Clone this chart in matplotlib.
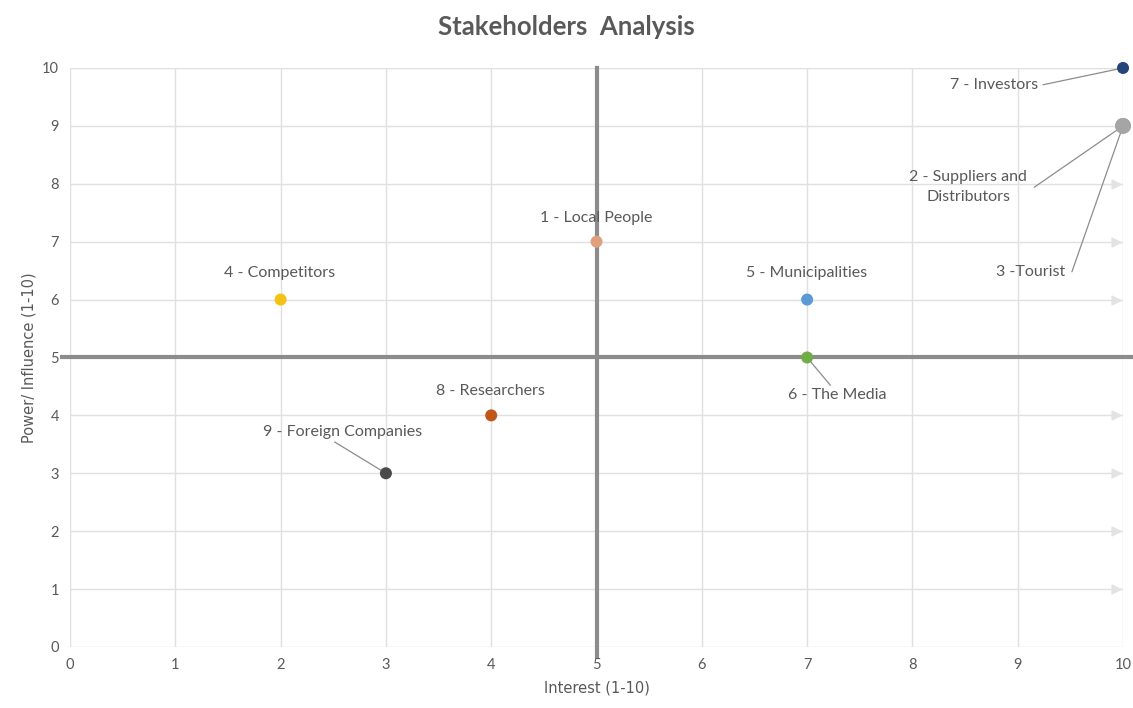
import matplotlib.pyplot as plt

# Stakeholder data (interest, power)
names = ['1 - Local People', '2 - Suppliers and\nDistributors', '3 -Tourist', '4 - Competitors',
         '5 - Municipalities', '6 - The Media', '7 - Investors', '8 - Researchers',
         '9 - Foreign Companies']
interest = [5, 10, 10, 2, 7, 7, 10, 4, 3]
power = [7, 9, 9, 6, 6, 5, 10, 4, 3]
colors = ['#E0A07E', '#A5A5A5', '#A5A5A5', '#F2C314', '#5B9BD5', '#70AD47', '#264478', '#C0561A', '#4A4A4A']
sizes = [75, 130, 130, 75, 75, 75, 75, 75, 75]

# label positions (data coords) and leader-line anchors
label_x = [5.0, 8.53, 9.12, 1.99, 6.99, 7.29, 8.78, 3.99, 2.59]
label_y = [7.41, 7.94, 6.48, 6.46, 6.46, 4.35, 9.71, 4.42, 3.71]
leader = [False, True, True, False, False, True, True, False, True]
leader_rel = [None, (1.06, 0.5), (1.1, 0.5), None, None, (0.45, 1.0), (1.05, 0.5), None, (0.42, 0.0)]

arrow_levels = [1, 2, 3, 4, 6, 7, 8]

fig = plt.figure(figsize=(11.33, 7.08), dpi=100)
ax = fig.add_axes([0.0618, 0.0862, 0.9294, 0.8178])
plt.rcParams['font.family'] = ['Lato', 'DejaVu Sans']
txt = '#595959'

ax.set_xlim(0, 10)
ax.set_ylim(0, 10)
ax.set_xticks(range(0, 11))
ax.set_yticks(range(0, 11))
ax.grid(True, color='#E0E0E0', linewidth=1)
ax.set_axisbelow(True)
for s in ax.spines.values():
    s.set_visible(False)
ax.tick_params(length=0, labelsize=10.5, colors=txt, pad=8)
for lab in ax.get_xticklabels() + ax.get_yticklabels():
    lab.set_fontfamily('Lato')

# faint arrow heads at the right edge
ax.scatter([9.93] * len(arrow_levels), arrow_levels, marker='>', s=40, color='#E3E3E3', zorder=2, clip_on=False)

# quadrant lines
ax.plot([-0.08, 10.1], [5, 5], color='#8C8C8C', linewidth=3, zorder=3, clip_on=False)
ax.plot([5, 5], [-0.15, 10], color='#8C8C8C', linewidth=3, zorder=3, clip_on=False)

for i in range(len(names)):
    ax.scatter(interest[i], power[i], s=sizes[i], color=colors[i], zorder=5, clip_on=False,
               edgecolors='none')
    if leader[i]:
        ax.annotate(names[i], xy=(interest[i], power[i]), xytext=(label_x[i], label_y[i]),
                    ha='center', va='center', fontsize=11.5, color=txt, linespacing=1.5,
                    arrowprops=dict(arrowstyle='-', color='#8C8C8C', lw=0.9,
                                    relpos=leader_rel[i], shrinkA=0, shrinkB=2))
    else:
        ax.text(label_x[i], label_y[i], names[i], ha='center', va='center', fontsize=11.5, color=txt)

ax.set_xlabel('Interest (1-10)', fontsize=10.5, color=txt, labelpad=6)
ax.set_ylabel('Power/ Influence (1-10)', fontsize=10.5, color=txt, labelpad=4)
fig.text(0.5, 0.962, 'Stakeholders  Analysis', ha='center', va='center', fontsize=18.5,
         fontweight='bold', color='#595959')

fig.savefig('out.png', dpi=100)
